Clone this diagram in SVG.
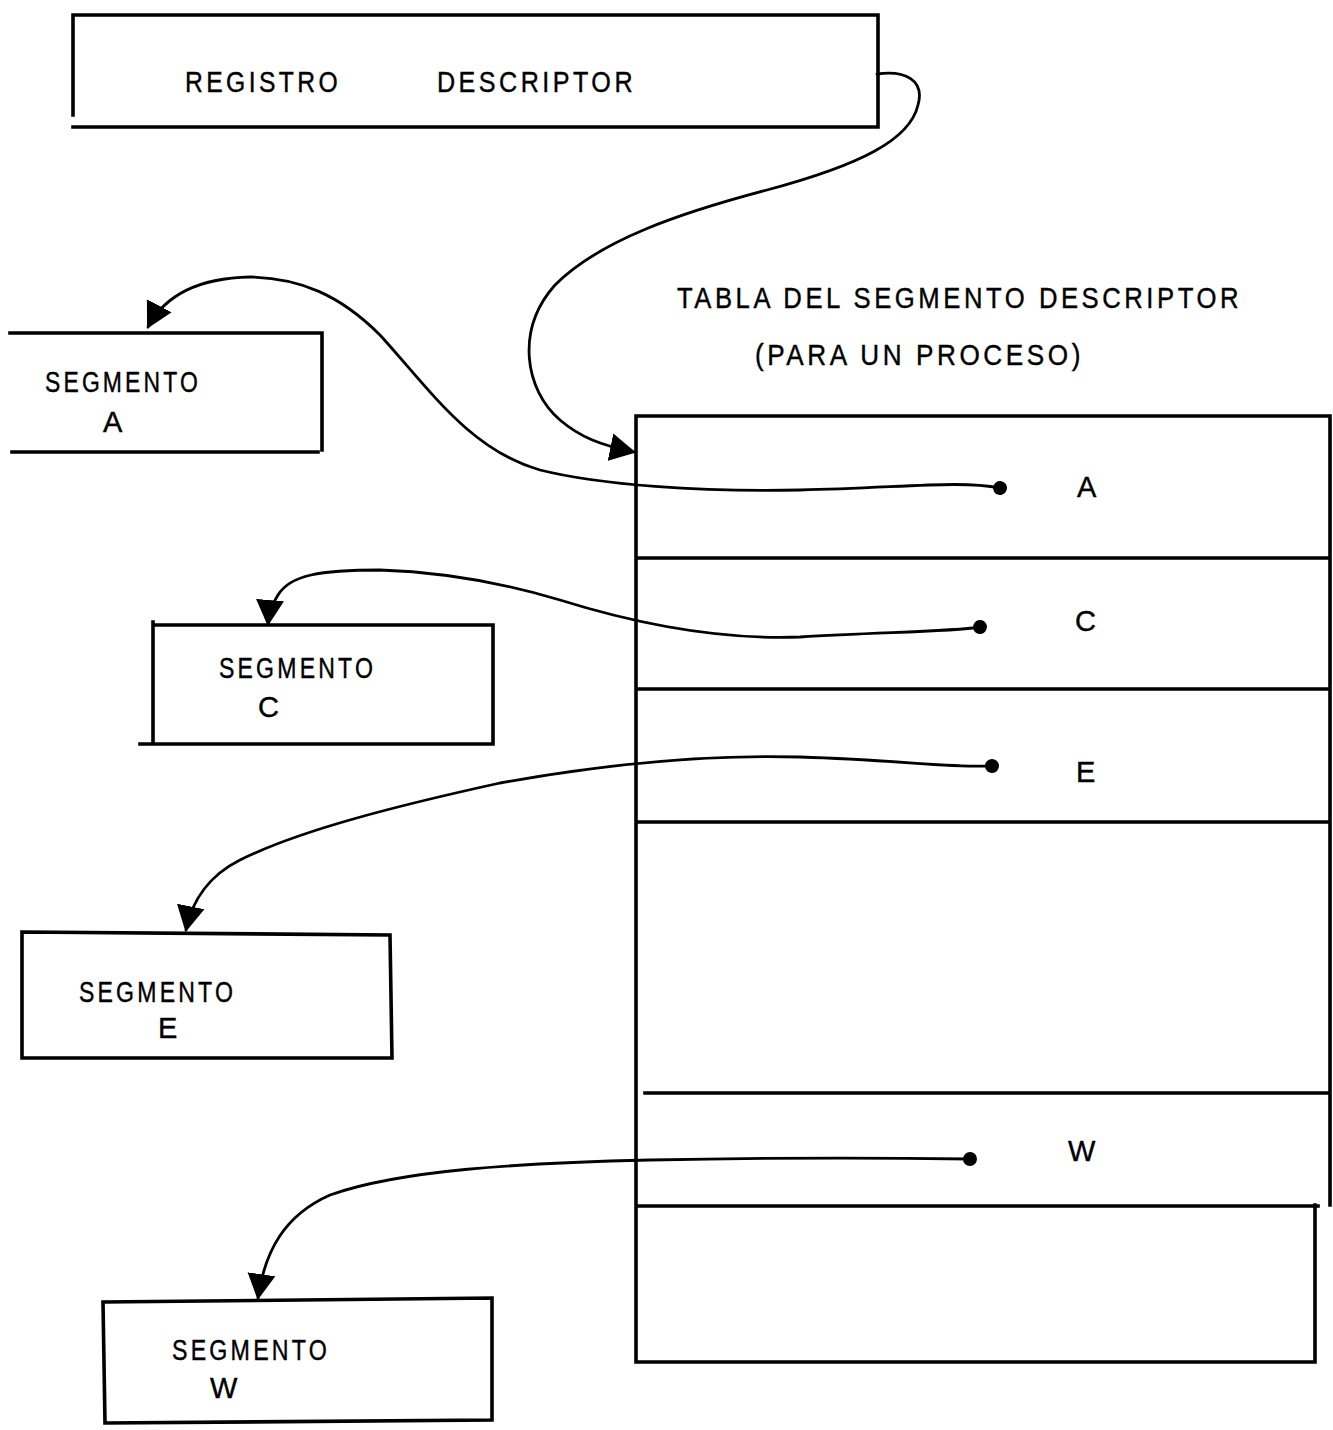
<svg xmlns="http://www.w3.org/2000/svg" width="1333" height="1430" viewBox="0 0 1333 1430">
<style>
.box{fill:none;stroke:#000;stroke-width:3.6;stroke-linecap:square}
.lbl{font-family:"Liberation Sans",Arial,sans-serif;font-size:29px;fill:#000;stroke:#000;stroke-width:0.4;letter-spacing:4px}
.conn{fill:none;stroke:#000;stroke-width:2.8;stroke-linecap:round}
</style>
<defs>
<marker id="arr" viewBox="0 0 26 30" refX="24" refY="15" markerWidth="26" markerHeight="30" markerUnits="userSpaceOnUse" orient="auto">
<path d="M0,1 L26,15 L0,29 z" fill="#000"/>
</marker>
<marker id="dot" viewBox="-8 -8 16 16" refX="0" refY="0" markerWidth="16" markerHeight="16" markerUnits="userSpaceOnUse" orient="auto">
<circle cx="0" cy="0" r="7" fill="#000"/>
</marker>
</defs>
<rect width="1333" height="1430" fill="#fff"/>

<g id="registro">
<path class="box" d="M73 15 L878 15 L878 127 L73 127 M73 15 L73 115"/>
<text class="lbl" x="185" y="92" textLength="156" lengthAdjust="spacingAndGlyphs">REGISTRO</text>
<text class="lbl" x="437" y="92" textLength="199" lengthAdjust="spacingAndGlyphs">DESCRIPTOR</text>
</g>

<g id="titulo">
<text class="lbl" x="677" y="308" textLength="565" lengthAdjust="spacingAndGlyphs">TABLA DEL SEGMENTO DESCRIPTOR</text>
<text class="lbl" x="755" y="365" textLength="329" lengthAdjust="spacingAndGlyphs">(PARA UN PROCESO)</text>
</g>

<g id="tabla">
<path class="box" d="M636 416 L1330 416 L1330 1205 M636 416 L636 1362 L1315 1362 L1315 1205 M636 558 L1330 558 M636 689 L1330 689 M636 822 L1330 822 M645 1093 L1330 1093 M636 1206 L1318 1206"/>
<text class="lbl" x="1077" y="497">A</text>
<text class="lbl" x="1075" y="631">C</text>
<text class="lbl" x="1076" y="782">E</text>
<text class="lbl" x="1068" y="1161">W</text>
</g>

<g id="segA">
<path class="box" d="M10 333 L322 333 L322 450 M12 452 L318 452"/>
<text class="lbl" x="45" y="392" textLength="156" lengthAdjust="spacingAndGlyphs">SEGMENTO</text>
<text class="lbl" x="103" y="432">A</text>
</g>

<g id="segC">
<path class="box" d="M153 622 L153 744 M153 625 L493 625 L493 744 L140 744"/>
<text class="lbl" x="219" y="678" textLength="157" lengthAdjust="spacingAndGlyphs">SEGMENTO</text>
<text class="lbl" x="258" y="717">C</text>
</g>

<g id="segE">
<path class="box" d="M22 932 L390 935 L392 1058 L22 1058 Z"/>
<text class="lbl" x="79" y="1002" textLength="157" lengthAdjust="spacingAndGlyphs">SEGMENTO</text>
<text class="lbl" x="158" y="1038">E</text>
</g>

<g id="segW">
<path class="box" d="M103 1302 L492 1298 L492 1420 L105 1423 Z"/>
<text class="lbl" x="172" y="1360" textLength="158" lengthAdjust="spacingAndGlyphs">SEGMENTO</text>
<text class="lbl" x="210" y="1398">W</text>
</g>

<g id="connectors">
<path class="conn" marker-end="url(#arr)" d="M877 74 C905 70 925 80 918 105 C910 140 860 165 767 190 C680 213 600 240 555 285 C515 330 525 390 560 420 C580 437 600 445 634 452"/>
<path class="conn" marker-start="url(#dot)" marker-end="url(#arr)" d="M1000 488 C960 480 900 488 800 490 C700 492 600 485 540 470 C470 450 430 390 380 335 C340 295 300 278 250 277 C200 278 165 295 148 327"/>
<path class="conn" marker-start="url(#dot)" marker-end="url(#arr)" d="M980 627 C950 632 880 632 800 637 C720 640 640 625 560 600 C500 582 440 572 380 570 C320 570 290 575 278 595 C272 605 269 612 268 624"/>
<path class="conn" marker-start="url(#dot)" marker-end="url(#arr)" d="M992 766 C950 768 900 760 800 757 C700 754 600 765 500 783 C400 805 300 830 240 860 C210 875 192 900 186 930"/>
<path class="conn" marker-start="url(#dot)" marker-end="url(#arr)" d="M970 1159 C900 1158 800 1157 650 1160 C520 1163 400 1170 330 1195 C285 1215 265 1250 258 1298"/>
</g>
</svg>
